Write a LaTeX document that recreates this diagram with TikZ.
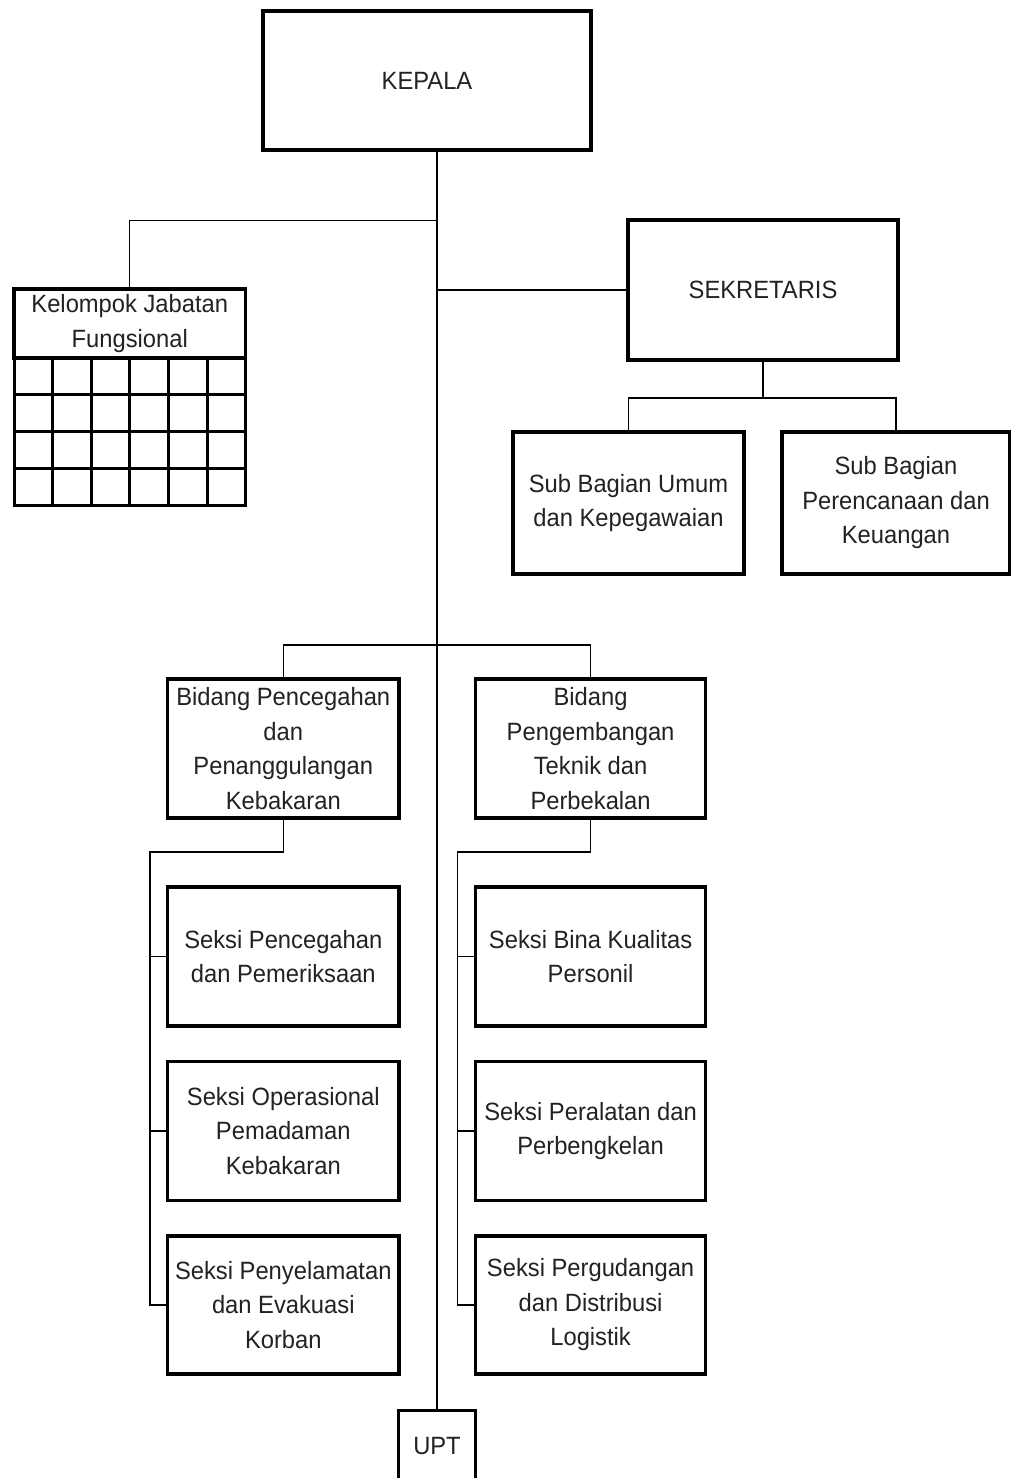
\documentclass[tikz,border=0pt]{standalone}
\usepackage{fontspec}
\setmainfont{Liberation Sans}[FakeStretch=0.95]
\definecolor{txt}{HTML}{222222}
\begin{document}
\begin{tikzpicture}[x=1pt,y=-1pt,
  box/.style={draw=black,line width=3.3pt,fill=white,align=center,inner sep=0pt,outer sep=0pt,
    text=txt,font=\fontsize{25}{34.5}\selectfont,anchor=center},
  conn/.style={draw=black,line width=1.3pt},
  gridl/.style={draw=black,line width=3pt}]
\useasboundingbox (0,0) rectangle (1011,1478);
\clip (0,0) rectangle (1011,1478);
% nodes
\node[box,minimum width=328pt,minimum height=139pt] (kepala) at (427,80.5) {KEPALA};
\node[box,minimum width=231.6pt,minimum height=69pt] (kjf) at (129.8,323.5) {Kelompok Jabatan\\Fungsional};
\node[box,minimum width=270pt,minimum height=140pt] (sek) at (763,290) {SEKRETARIS};
\node[box,minimum width=231pt,minimum height=142pt] (sbu) at (628.5,503) {Sub Bagian Umum\\dan Kepegawaian};
\node[box,minimum width=228pt,minimum height=142pt] (sbp) at (896,503) {Sub Bagian\\Perencanaan dan\\Keuangan};
\node[box,minimum width=231.4pt,minimum height=139pt] (bid1) at (283.3,748.5) {Bidang Pencegahan\\dan\\Penanggulangan\\Kebakaran};
\node[box,minimum width=230pt,minimum height=139pt] (bid2) at (590.6,748.5) {Bidang\\Pengembangan\\Teknik dan\\Perbekalan};
\node[box,minimum width=231.4pt,minimum height=139pt] (s11) at (283.3,956.5) {Seksi Pencegahan\\dan Pemeriksaan};
\node[box,minimum width=231.4pt,minimum height=139pt] (s12) at (283.3,1131) {Seksi Operasional\\Pemadaman\\Kebakaran};
\node[box,minimum width=231.4pt,minimum height=138pt] (s13) at (283.3,1305) {Seksi Penyelamatan\\dan Evakuasi\\Korban};
\node[box,minimum width=230pt,minimum height=139pt] (s21) at (590.6,956.5) {Seksi Bina Kualitas\\Personil};
\node[box,minimum width=230pt,minimum height=139pt] (s22) at (590.6,1131) {Seksi Peralatan dan\\Perbengkelan};
\node[box,minimum width=230pt,minimum height=138pt] (s23) at (590.6,1305) {Seksi Pergudangan\\dan Distribusi\\Logistik};
\node[box,minimum width=77.6pt,minimum height=70pt] (upt) at (437,1445.7) {UPT};
% grid under Kelompok Jabatan Fungsional
\draw[gridl] (kjf.south west) rectangle ++(231.6,147);
\foreach \i in {1,...,5} {
  \draw[gridl] ([xshift=\i*38.6pt]kjf.south west) -- ++(0,147);
}
\foreach \j in {1,2,3} {
  \draw[gridl] ([yshift=-\j*36.75pt]kjf.south west) -- ++(231.6,0);
}
% coordinates
\coordinate (j1) at (437,220.7);
\coordinate (lbus) at (150,852);
\coordinate (rbus) at (457.6,852);
% trunk
\draw[conn] (upt.north |- kepala.south) -- (upt.north);
\draw[conn] (j1) -| (kjf.north);
\draw[conn] (upt.north |- sek.west) -- (sek.west);
% sekretaris children
\draw[conn] (sek.south) -- ++(0,38) coordinate (sj);
\draw[conn] (sbu.north) |- (sj) -| (sbp.north);
% bidang
\draw[conn] (bid1.north) -- ++(0,-34) -| (bid2.north);
% left seksi
\draw[conn] (bid1.south) |- (lbus) |- (s13.west);
\draw[conn] (lbus |- s11.west) -- (s11.west);
\draw[conn] (lbus |- s12.west) -- (s12.west);
% right seksi
\draw[conn] (bid2.south) |- (rbus) |- (s23.west);
\draw[conn] (rbus |- s21.west) -- (s21.west);
\draw[conn] (rbus |- s22.west) -- (s22.west);
\end{tikzpicture}
\end{document}
